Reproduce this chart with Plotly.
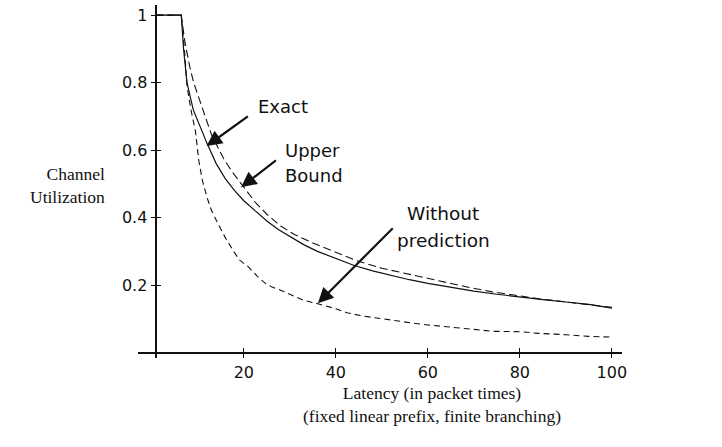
import plotly.graph_objects as go

# Channel utilization versus latency (packet times)
latency_exact = [1, 6.4, 6.9, 7.65, 9, 10.5, 12, 14, 16, 18, 20, 22.5, 25, 27.5, 30, 33, 36,
                 40, 44, 48, 52, 56, 60, 65, 70, 75, 80, 85, 90, 95, 100]
util_exact = [1, 1, 0.9, 0.80, 0.72, 0.67, 0.62, 0.56, 0.515, 0.48, 0.45, 0.42, 0.39, 0.365,
              0.345, 0.32, 0.30, 0.28, 0.258, 0.242, 0.228, 0.216, 0.205, 0.193, 0.182, 0.173,
              0.164, 0.157, 0.150, 0.143, 0.132]

latency_upper = [1, 6.4, 7.2, 8.2, 9.1, 10.5, 11.6, 13, 15.6, 17.5, 20, 22.5, 25, 28, 31, 35,
                 39, 44.6, 50, 54, 58, 63, 69, 74, 80, 85, 90, 95, 100]
util_upper = [1, 1, 0.92, 0.85, 0.80, 0.74, 0.70, 0.645, 0.575, 0.535, 0.49, 0.445, 0.41,
              0.375, 0.35, 0.325, 0.303, 0.272, 0.25, 0.238, 0.225, 0.21, 0.193, 0.18, 0.167,
              0.158, 0.15, 0.143, 0.134]

latency_nopred = [1, 6.4, 7.2, 7.65, 8.5, 9.5, 10.2, 11, 12, 13, 14.1, 16, 17.8, 19, 21, 23,
                  24.7, 26, 28, 30.8, 33, 36.3, 40, 42.4, 46, 49.7, 53, 56.9, 60, 64.2, 70,
                  74.3, 80, 84, 90, 95, 100]
util_nopred = [1, 1, 0.88, 0.79, 0.72, 0.655, 0.57, 0.51, 0.46, 0.42, 0.39, 0.34, 0.30, 0.275,
               0.254, 0.225, 0.205, 0.195, 0.185, 0.168, 0.155, 0.144, 0.13, 0.118, 0.108,
               0.101, 0.094, 0.087, 0.082, 0.076, 0.069, 0.063, 0.062, 0.057, 0.053, 0.048,
               0.046]

x_ticks = [20, 40, 60, 80, 100]
y_ticks = [0.2, 0.4, 0.6, 0.8, 1]
y_tick_text = ["0.2", "0.4", "0.6", "0.8", "1"]

X_RANGE = [-3, 102.2]
Y_RANGE = [-0.016, 1.03]
Y_AXIS_AT = 1.0   # x value where the vertical axis crosses
X_AXIS_AT = 0.0   # y value where the horizontal axis crosses

xpos = (Y_AXIS_AT - X_RANGE[0]) / (X_RANGE[1] - X_RANGE[0])
ypos = (X_AXIS_AT - Y_RANGE[0]) / (Y_RANGE[1] - Y_RANGE[0])

INK = "#111111"
SANS = "DejaVu Sans"
SERIF = "Liberation Serif"

fig = go.Figure()

fig.add_trace(go.Scatter(x=latency_nopred, y=util_nopred, mode="lines",
                         line=dict(color=INK, width=1.1, dash="6px,4px"),
                         name="Without prediction"))
fig.add_trace(go.Scatter(x=latency_upper, y=util_upper, mode="lines",
                         line=dict(color=INK, width=1.1, dash="8px,4px"),
                         name="Upper Bound"))
fig.add_trace(go.Scatter(x=latency_exact, y=util_exact, mode="lines",
                         line=dict(color=INK, width=1.2),
                         name="Exact"))
# empty trace so the companion axes (inner half of the crossing ticks) render
fig.add_trace(go.Scatter(x=[], y=[], xaxis="x2", yaxis="y2", showlegend=False,
                         hoverinfo="skip"))

axis_common = dict(showgrid=False, zeroline=False, color=INK)

fig.update_layout(
    width=722, height=447,
    margin=dict(l=138, r=100, t=5, b=89),
    paper_bgcolor="white", plot_bgcolor="white",
    showlegend=False,
    xaxis=dict(range=X_RANGE, anchor="free", position=ypos,
               showline=True, linecolor=INK, linewidth=1.6,
               ticks="outside", ticklen=5, tickwidth=1.4, tickcolor=INK,
               tickvals=x_ticks, ticktext=[str(v) for v in x_ticks],
               tickfont=dict(family=SANS, size=16, color=INK),
               **axis_common),
    yaxis=dict(range=Y_RANGE, anchor="free", position=xpos,
               showline=True, linecolor=INK, linewidth=1.6,
               ticks="outside", ticklen=5, tickwidth=1.4, tickcolor=INK,
               tickvals=y_ticks, ticktext=y_tick_text,
               tickfont=dict(family=SANS, size=16, color=INK),
               **axis_common),
    xaxis2=dict(range=X_RANGE, overlaying="x", anchor="free", position=ypos,
                showline=False, ticks="inside", ticklen=5, tickwidth=1.4,
                tickcolor=INK, tickvals=x_ticks, showticklabels=False,
                **axis_common),
    yaxis2=dict(range=Y_RANGE, overlaying="y", anchor="free", position=xpos,
                showline=False, ticks="inside", ticklen=4, tickwidth=1.4,
                tickcolor=INK, tickvals=y_ticks, showticklabels=False,
                **axis_common),
)

arrow = dict(showarrow=True, arrowhead=2, arrowsize=1.4, arrowwidth=2.2,
             arrowcolor=INK, axref="x", ayref="y", text="")

annotations = [
    # arrows
    dict(x=11.9, y=0.612, ax=21.2, ay=0.703, **arrow),
    dict(x=19.4, y=0.49, ax=27.3, ay=0.573, **arrow),
    dict(x=36.1, y=0.146, ax=52.7, ay=0.373, **arrow),
    # curve labels
    dict(x=22.7, y=0.73, text="Exact", showarrow=False, xanchor="left",
         font=dict(family=SANS, size=18, color=INK)),
    dict(x=28.5, y=0.60, text="Upper", showarrow=False, xanchor="left",
         font=dict(family=SANS, size=18, color=INK)),
    dict(x=28.5, y=0.526, text="Bound", showarrow=False, xanchor="left",
         font=dict(family=SANS, size=18, color=INK)),
    dict(x=63.3, y=0.411, text="Without", showarrow=False, xanchor="center",
         font=dict(family=SANS, size=18.5, color=INK)),
    dict(x=63.3, y=0.333, text="prediction", showarrow=False, xanchor="center",
         font=dict(family=SANS, size=18.5, color=INK)),
    # axis titles
    dict(xref="paper", yref="paper", x=-0.064, y=0.49, xanchor="right",
         text="Channel<br>Utilization", align="right", showarrow=False,
         font=dict(family=SERIF, size=17.5, color=INK)),
    dict(xref="x", yref="paper", x=61.0, y=-0.065, yanchor="top",
         text="Latency (in packet times)<br>(fixed linear prefix, finite branching)",
         align="center", showarrow=False,
         font=dict(family=SERIF, size=17.5, color=INK)),
]
fig.update_layout(annotations=annotations)

fig.write_html("out.html")
